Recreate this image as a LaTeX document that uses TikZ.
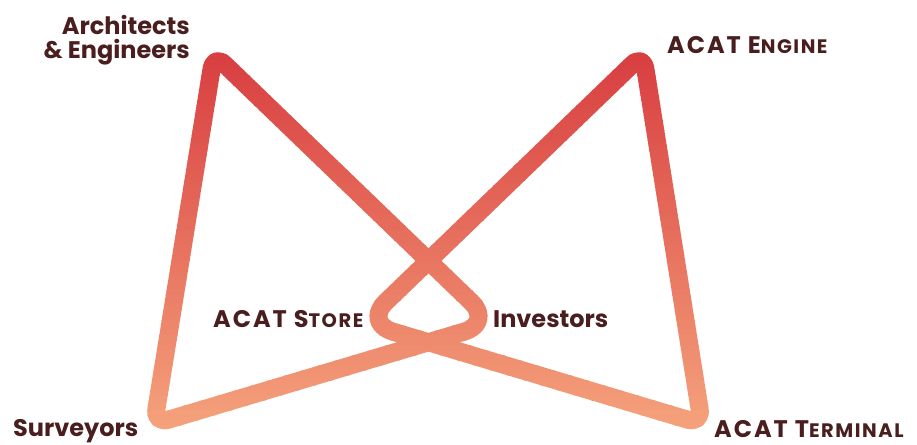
\documentclass[tikz,border=0pt]{standalone}
\usepackage{fontspec}
\setmainfont{Poppins}
\definecolor{txt}{RGB}{74,30,30}
\definecolor{topc}{RGB}{216,62,64}
\definecolor{botc}{RGB}{245,162,124}
\newcommand{\fsc}[2]{\addfontfeature{LetterSpace=8}#1{\fontsize{19.5}{19.5}\selectfont\addfontfeature{LetterSpace=8}#2}}
\tikzset{
  lbl/.style={font=\fontsize{24}{24}\selectfont\bfseries, text=txt, inner sep=0pt},
  bowline/.style={line width=18pt, rounded corners=15pt, line join=round}
}
\begin{document}
\begin{tikzpicture}[x=1pt,y=-1pt]
\useasboundingbox (0,0) rectangle (917,444);
\coordinate (TL) at (214,54);
\coordinate (BL) at (154,424);
\coordinate (R)  at (493,323);
\coordinate (M1) at (184,239);
\coordinate (TR) at (643,54);
\coordinate (BR) at (702,424);
\coordinate (L)  at (364,323);
\coordinate (M2) at (672.5,239);
\foreach \i in {0,...,79} {
  \pgfmathsetmacro\ya{40+\i*5}
  \pgfmathsetmacro\yb{\ya+5.6}
  \pgfmathtruncatemacro\p{100-100*min(1,max(0,(\ya+2.5-55)/375))}
  \begin{scope}
    \clip (0,\ya) rectangle (917,\yb);
    \draw[bowline, draw=topc!\p!botc] (M1) -- (BL) [rounded corners=30pt] -- (R) [rounded corners=15pt] -- (TL) -- cycle;
    \draw[bowline, draw=topc!\p!botc] (M2) -- (BR) [rounded corners=30pt] -- (L) [rounded corners=15pt] -- (TR) -- cycle;
  \end{scope}
}
\node[lbl, anchor=base east] (arch) at (190,35) {Architects};
\node[lbl, anchor=base east] (eng) at (190,59) {\& Engineers};
\node[lbl, anchor=base west] (engine) at (667,53) {\fsc{ACAT E}{NGINE}};
\node[lbl, anchor=base west] (store) at (213,327) {\fsc{ACAT S}{TORE}};
\node[lbl, anchor=base west] (inv) at (493,327) {Investors};
\node[lbl, anchor=base west] (surv) at (13,436) {Surveyors};
\node[lbl, anchor=base west] (term) at (714,437) {\fsc{ACAT T}{ERMINAL}};
\end{tikzpicture}
\end{document}
